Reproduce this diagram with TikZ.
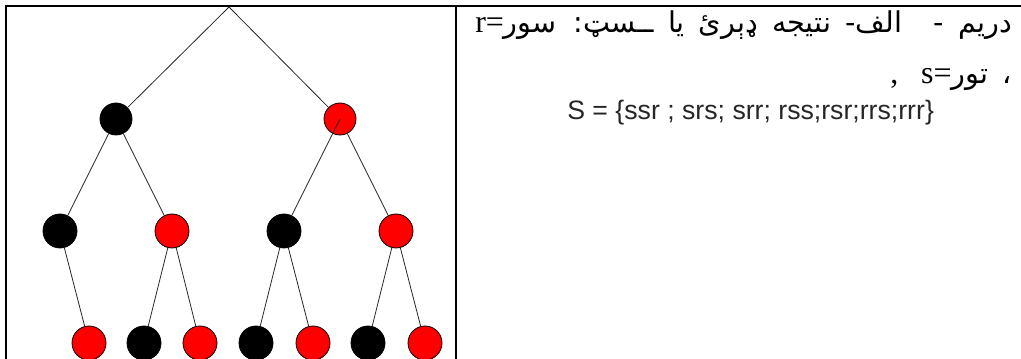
\documentclass[tikz,border=0pt]{standalone}
\usepackage{fontspec}
\setmainfont{Liberation Serif}
\newfontfamily\arabicfont[Script=Arabic,WordSpace=1.55]{DejaVu Sans}
\newfontfamily\arialfont{Liberation Sans}
\newcommand{\lat}[1]{{\rmfamily\fontsize{24}{27}\selectfont #1}}
\TeXXeTstate=1
\begin{document}
\begin{tikzpicture}[x=0.75pt,y=-0.75pt,
  blk/.style={circle,draw=black,fill=black,line width=0.6pt,minimum size=25.5pt,inner sep=0pt},
  rd/.style={circle,draw=black,fill=red,line width=0.6pt,minimum size=25.5pt,inner sep=0pt},
  small/.style={minimum size=24pt},
  edge/.style={draw=black!85,line width=0.6pt},
  frame/.style={line width=1.5pt},
  rtltext/.style={anchor=base east,inner sep=0pt,font=\arabicfont\fontsize{21.5}{24}\selectfont},
  settext/.style={anchor=base west,inner sep=0pt,font=\arialfont\fontsize{20}{23}\selectfont,text=black!85}]
\useasboundingbox (0,0) rectangle (1021,359);
\clip (0,0) rectangle (1021,359);
% frame
\draw[frame] (5.7,362) -- (5.7,6.5) -- (1022,6.5);
\draw[frame] (455.7,6.5) -- (455.7,362);
% tree
\coordinate (root) at (229,7);
\node[blk,small] (a) at (116,119) {};
\node[rd,small] (b) at (340,119) {};
\node[blk] (aa) at (60,231) {};
\node[rd] (ab) at (172,231) {};
\node[blk] (ba) at (284,231) {};
\node[rd] (bb) at (396,231) {};
\node[rd] (aab) at (89,343) {};
\node[blk] (aba) at (144,343) {};
\node[rd] (abb) at (200,343) {};
\node[blk] (baa) at (256,343) {};
\node[rd] (bab) at (313,343) {};
\node[blk] (bba) at (368,343) {};
\node[rd] (bbb) at (425,343) {};
\draw[edge] (root) -- (a);
\draw[edge] (root) -- (b);
\draw[edge] (a) -- (aa);
\draw[edge] (a) -- (ab);
\draw[edge] (b.center) -- (ba);
\draw[edge] (b) -- (bb);
\draw[edge] (aa) -- (aab);
\draw[edge] (ab) -- (aba);
\draw[edge] (ab) -- (abb);
\draw[edge] (ba) -- (baa);
\draw[edge] (ba) -- (bab);
\draw[edge] (bb) -- (bba);
\draw[edge] (bb) -- (bbb);
% text
\node[rtltext] (t1) at (1012,33) {\beginR دریم -\hspace{1.1em}الف- نتیجه ډېرئ یا ــسټ: سور\lat{=}\kern0pt\lat{r}\endR};
\node[rtltext] (t2) at (1012,84) {\beginR ، تور\lat{=}\kern0pt\lat{s}\endR};
\node[rtltext,anchor=base west] (t2c) at (890,84) {\lat{,}};
\node[settext] (t3) at (567,120) {S = \{ssr ; srs; srr; rss;rsr;rrs;rrr\}};
\end{tikzpicture}
\end{document}
